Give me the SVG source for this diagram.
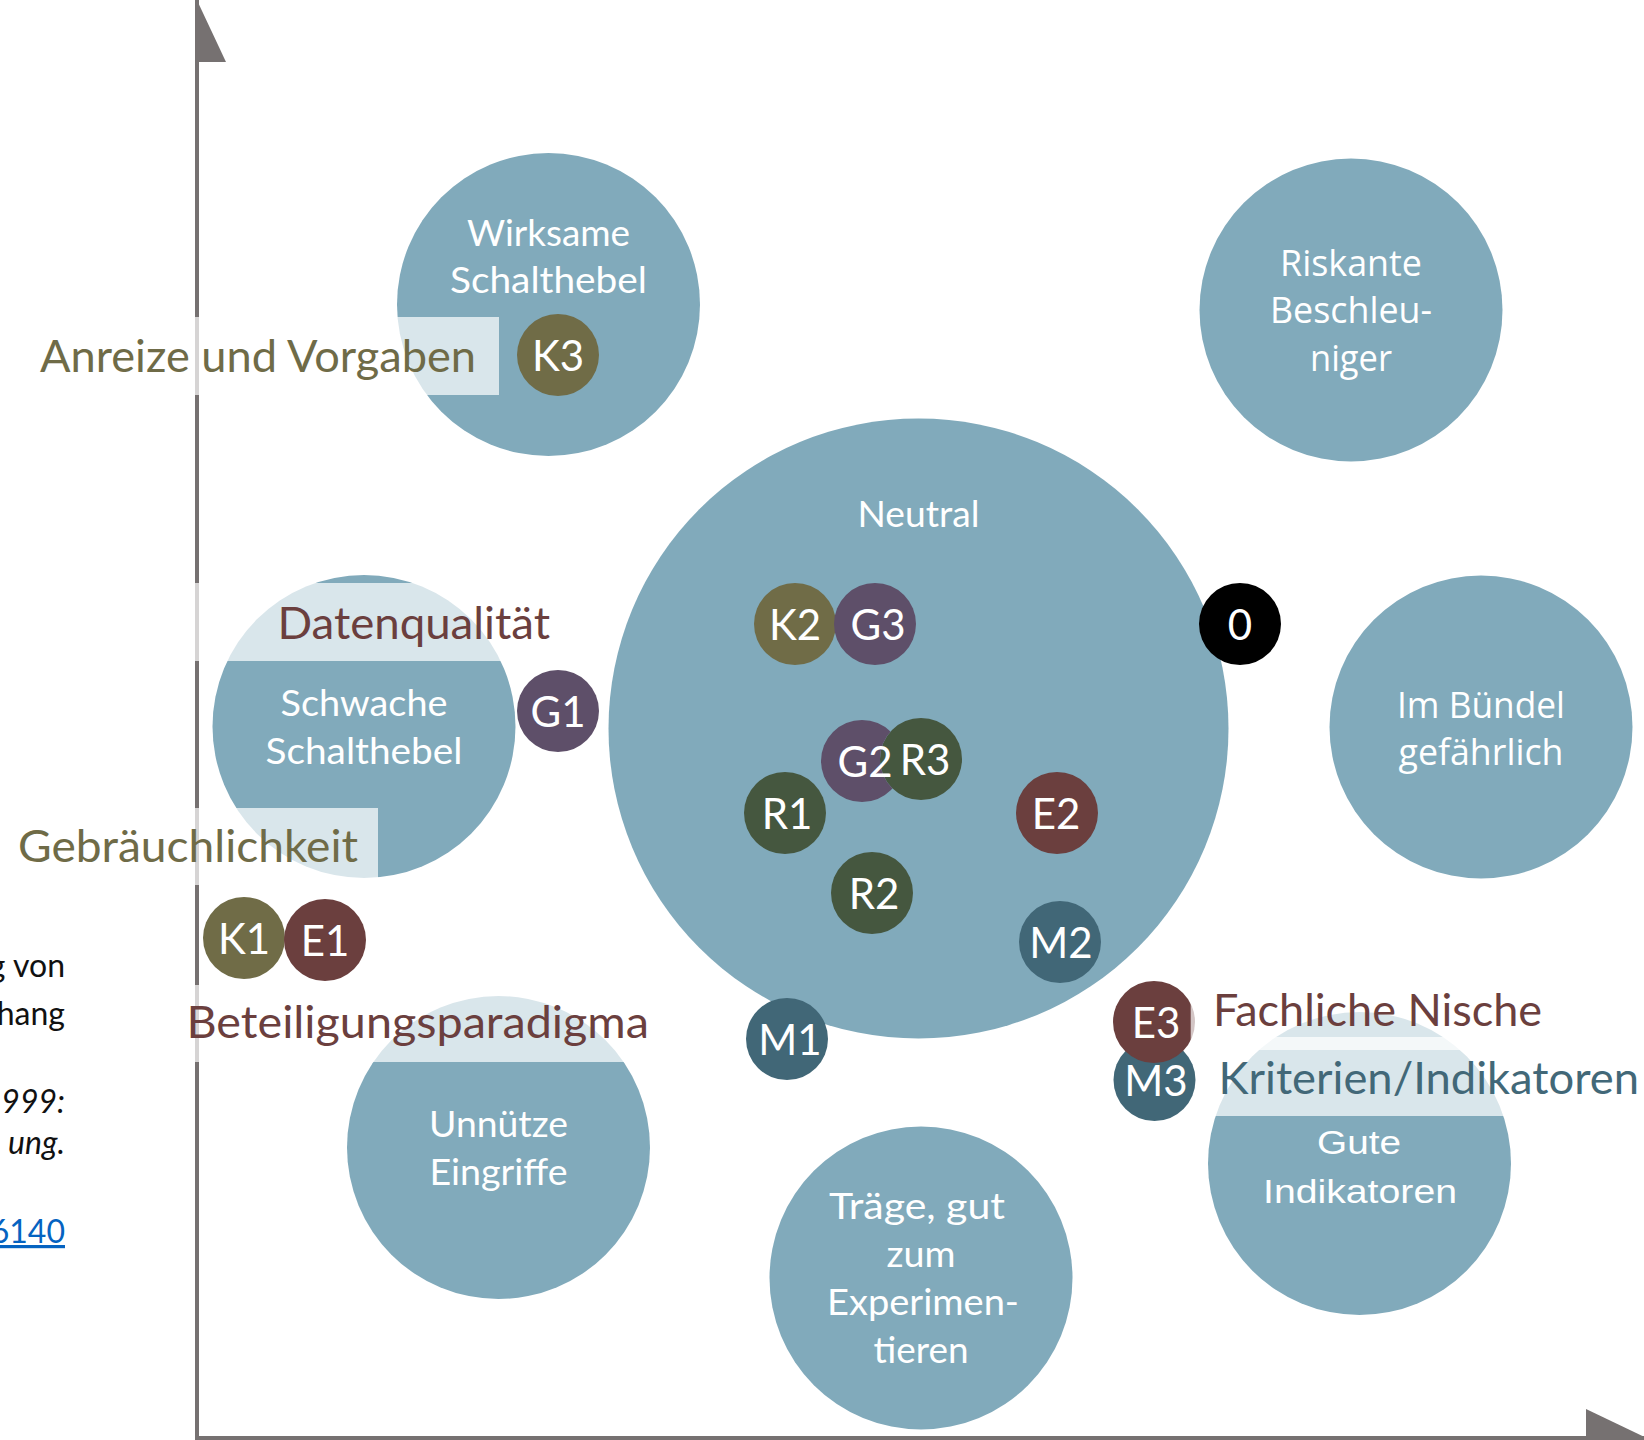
<svg xmlns="http://www.w3.org/2000/svg" width="1644" height="1440" viewBox="0 0 1644 1440">
<style>
.bub{fill:#81aabb}
.bt{font-family:Lato,"Noto Sans",sans-serif;font-size:37px;fill:#ffffff;text-anchor:middle}
.bo{font-family:"Open Sans","Noto Sans",sans-serif;font-size:37px;fill:#ffffff;text-anchor:middle}
.ba{font-family:"Liberation Sans",Arial,sans-serif;font-size:34px;fill:#ffffff;text-anchor:middle}
.nt{font-family:Lato,"Noto Sans",sans-serif;font-size:42px;fill:#ffffff;text-anchor:middle}
.K{fill:#706c47}.G{fill:#5e4f69}.R{fill:#45573f}.E{fill:#6b3f3e}.M{fill:#416777}.Z{fill:#000000}
.lbg{fill:#ffffff;fill-opacity:0.7}
.lab{font-family:Lato,"Noto Sans",sans-serif;font-size:44px}
.ol{fill:#6f6b47}.br{fill:#6b3f3e}.te{fill:#426878}
.side{font-family:Lato,"Noto Sans",sans-serif;font-size:32px;fill:#111111;text-anchor:end}
.ax{stroke:#767171;stroke-width:4;fill:none}
</style>
<defs>
<mask id="cutR3" maskUnits="userSpaceOnUse" x="0" y="0" width="1644" height="1440">
<rect x="0" y="0" width="1644" height="1440" fill="#ffffff"/>
<circle cx="921" cy="759" r="41" fill="#000000"/>
</mask>
</defs>

<g id="side-text">
<text class="side" x="65" y="977">g von</text>
<text class="side" x="65" y="1025">hang</text>
<text class="side" x="65" y="1113" font-style="italic">999:</text>
<text class="side" x="65" y="1154" font-style="italic">ung.</text>
<text class="side" x="65" y="1243" style="fill:#0563c1" text-decoration="underline">6140</text>
</g>

<g id="bubble-wirksame"><circle class="bub" cx="548.5" cy="304.5" r="151.5"/>
<text class="bt" x="548.5" y="246" textLength="163" lengthAdjust="spacingAndGlyphs">Wirksame</text>
<text class="bt" x="548.5" y="293" textLength="197" lengthAdjust="spacingAndGlyphs">Schalthebel</text></g>

<g id="bubble-riskant"><circle class="bub" cx="1351" cy="310" r="151.5"/>
<text class="bo" x="1351" y="276" textLength="142" lengthAdjust="spacingAndGlyphs">Riskante</text>
<text class="bo" x="1351" y="323" textLength="162" lengthAdjust="spacingAndGlyphs">Beschleu-</text>
<text class="bo" x="1351" y="371" textLength="82" lengthAdjust="spacingAndGlyphs">niger</text></g>

<g id="bubble-neutral"><circle class="bub" cx="918.5" cy="728.5" r="310"/>
<text class="bt" x="918.5" y="527" textLength="122" lengthAdjust="spacingAndGlyphs">Neutral</text></g>

<g id="bubble-schwach"><circle class="bub" cx="364" cy="726.5" r="151.5"/>
<text class="bt" x="364" y="716" textLength="167" lengthAdjust="spacingAndGlyphs">Schwache</text>
<text class="bt" x="364" y="764" textLength="197" lengthAdjust="spacingAndGlyphs">Schalthebel</text></g>

<g id="bubble-buendel"><circle class="bub" cx="1481" cy="727" r="151.5"/>
<text class="bo" x="1481" y="718" textLength="168" lengthAdjust="spacingAndGlyphs">Im Bündel</text>
<text class="bo" x="1481" y="765" textLength="165" lengthAdjust="spacingAndGlyphs">gefährlich</text></g>

<g id="bubble-unnuetz"><circle class="bub" cx="498.5" cy="1147.5" r="151.5"/>
<text class="bt" x="498.5" y="1137" textLength="139" lengthAdjust="spacingAndGlyphs">Unnütze</text>
<text class="bt" x="498.5" y="1185" textLength="138" lengthAdjust="spacingAndGlyphs">Eingriffe</text></g>

<g id="bubble-traege"><circle class="bub" cx="921" cy="1278" r="151.5"/>
<text class="bt" x="917" y="1219" textLength="176" lengthAdjust="spacingAndGlyphs">Träge, gut</text>
<text class="bt" x="921" y="1267" textLength="69" lengthAdjust="spacingAndGlyphs">zum</text>
<text class="bt" x="923" y="1315" textLength="192" lengthAdjust="spacingAndGlyphs">Experimen-</text>
<text class="bt" x="921" y="1363" textLength="95" lengthAdjust="spacingAndGlyphs">tieren</text></g>

<g id="bubble-gute"><circle class="bub" cx="1359.5" cy="1163.5" r="151.5"/>
<text class="ba" x="1359" y="1154" textLength="84" lengthAdjust="spacingAndGlyphs">Gute</text>
<text class="ba" x="1360" y="1203" textLength="194" lengthAdjust="spacingAndGlyphs">Indikatoren</text></g>

<g id="connectors">
<g id="axes">
<line class="ax" x1="197" y1="0" x2="197" y2="1440"/>
<line class="ax" x1="195" y1="1438" x2="1644" y2="1438"/>
<polygon points="195,-4 226,62 195,62" fill="#767171"/>
<polygon points="1586,1409 1586,1440 1651,1440" fill="#767171"/>
</g>
</g>

<g id="node-K3"><circle class="K" cx="558" cy="355" r="41"/><text class="nt" x="558" y="371">K3</text></g>
<g id="node-G1"><circle class="G" cx="558" cy="711" r="41"/><text class="nt" x="558" y="727">G1</text></g>
<g id="node-K1"><circle class="K" cx="244" cy="938" r="41"/><text class="nt" x="244" y="954">K1</text></g>
<g id="node-E1"><circle class="E" cx="325" cy="940" r="41"/><text class="nt" x="325" y="956">E1</text></g>
<g id="node-K2"><circle class="K" cx="795" cy="624" r="41"/><text class="nt" x="795" y="640">K2</text></g>
<g id="node-G3"><circle class="G" cx="875" cy="624" r="41"/><text class="nt" x="878" y="640">G3</text></g>
<g id="node-0"><circle class="Z" cx="1240" cy="624" r="41"/><text class="nt" x="1240" y="640">0</text></g>
<g id="node-R3"><circle class="R" cx="921" cy="759" r="41"/><text class="nt" x="925" y="775">R3</text></g>
<g id="node-G2"><circle class="G" cx="862" cy="761" r="41" mask="url(#cutR3)"/><text class="nt" x="865" y="777">G2</text></g>
<g id="node-R1"><circle class="R" cx="785" cy="813" r="41"/><text class="nt" x="787" y="829">R1</text></g>
<g id="node-E2"><circle class="E" cx="1057" cy="813" r="41"/><text class="nt" x="1056" y="829">E2</text></g>
<g id="node-R2"><circle class="R" cx="872" cy="893" r="41"/><text class="nt" x="874" y="909">R2</text></g>
<g id="node-M2"><circle class="M" cx="1060" cy="942" r="41"/><text class="nt" x="1061" y="958">M2</text></g>
<g id="node-M1"><circle class="M" cx="787" cy="1039" r="41"/><text class="nt" x="790" y="1055">M1</text></g>
<g id="node-M3"><circle class="M" cx="1154.5" cy="1080" r="41"/><text class="nt" x="1156" y="1096">M3</text></g>
<g id="node-E3"><circle class="E" cx="1154" cy="1022" r="41"/><text class="nt" x="1156" y="1038">E3</text></g>

<g id="category-labels">
<rect class="lbg" x="30" y="317" width="469" height="78"/>
<rect class="lbg" x="180" y="583" width="380" height="78"/>
<rect class="lbg" x="8" y="808" width="370" height="77"/>
<rect class="lbg" x="176" y="985" width="484" height="77"/>
<rect class="lbg" x="1190.7" y="972" width="360" height="78"/>
<rect class="lbg" x="1200" y="1037" width="444" height="79"/>
<text class="lab ol" x="40" y="372" textLength="436" lengthAdjust="spacingAndGlyphs">Anreize und Vorgaben</text>
<text class="lab br" x="277.5" y="639" textLength="272.5" lengthAdjust="spacingAndGlyphs">Datenqualität</text>
<text class="lab ol" x="18" y="862" textLength="340" lengthAdjust="spacingAndGlyphs">Gebräuchlichkeit</text>
<text class="lab br" x="186.5" y="1038" textLength="462.5" lengthAdjust="spacingAndGlyphs">Beteiligungsparadigma</text>
<text class="lab br" x="1213" y="1026" textLength="329" lengthAdjust="spacingAndGlyphs">Fachliche Nische</text>
<text class="lab te" x="1218.5" y="1094" textLength="420.5" lengthAdjust="spacingAndGlyphs">Kriterien/Indikatoren</text>
</g>
</svg>
